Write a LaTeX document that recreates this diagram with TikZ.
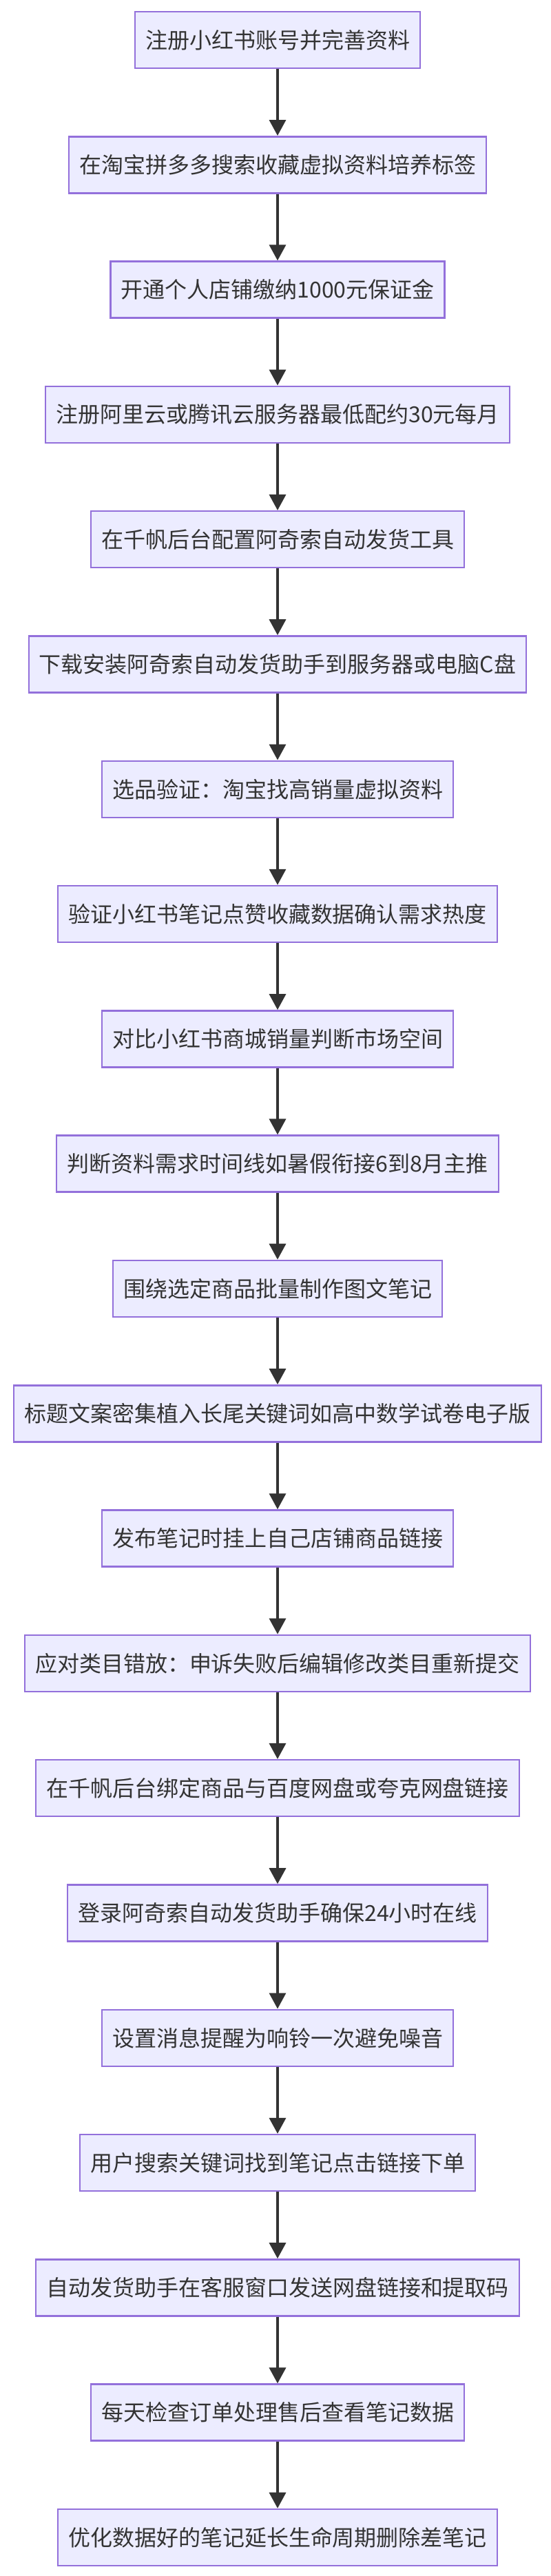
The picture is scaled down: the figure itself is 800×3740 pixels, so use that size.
\documentclass[tikz,border=0pt]{standalone}
\usepackage{fontspec}
\setmainfont{Noto Sans CJK SC}
\usetikzlibrary{arrows.meta}
\definecolor{boxfill}{HTML}{ECECFF}
\definecolor{boxline}{HTML}{9370DB}
\definecolor{arr}{HTML}{333333}
\tikzset{
 flowbox/.style={draw=boxline,fill=boxfill,line width=2.5pt,minimum height=82pt,inner xsep=15pt,inner ysep=0pt,font=\fontsize{32}{36}\selectfont,text=arr},
 flowarrow/.style={draw=arr,line width=3.5pt,-{Triangle[width=24pt,length=23pt]}}
}
\begin{document}
\begin{tikzpicture}[x=1pt,y=1pt]
\useasboundingbox (0,0) rectangle (800,3740);
\foreach \t [count=\i] in {
注册小红书账号并完善资料,
在淘宝拼多多搜索收藏虚拟资料培养标签,
开通个人店铺缴纳1000元保证金,
注册阿里云或腾讯云服务器最低配约30元每月,
在千帆后台配置阿奇索自动发货工具,
下载安装阿奇索自动发货助手到服务器或电脑C盘,
选品验证：淘宝找高销量虚拟资料,
验证小红书笔记点赞收藏数据确认需求热度,
对比小红书商城销量判断市场空间,
判断资料需求时间线如暑假衔接6到8月主推,
围绕选定商品批量制作图文笔记,
标题文案密集植入长尾关键词如高中数学试卷电子版,
发布笔记时挂上自己店铺商品链接,
应对类目错放：申诉失败后编辑修改类目重新提交,
在千帆后台绑定商品与百度网盘或夸克网盘链接,
登录阿奇索自动发货助手确保24小时在线,
设置消息提醒为响铃一次避免噪音,
用户搜索关键词找到笔记点击链接下单,
自动发货助手在客服窗口发送网盘链接和提取码,
每天检查订单处理售后查看笔记数据,
优化数据好的笔记延长生命周期删除差笔记}
{ \node[flowbox] (n\i) at (403,{3740-58-181.3*(\i-1)}) {\t}; }
\foreach \i [evaluate=\i as \j using int(\i+1)] in {1,...,20}
{ \draw[flowarrow] (n\i.south) -- (n\j.north); }
\end{tikzpicture}
\end{document}
